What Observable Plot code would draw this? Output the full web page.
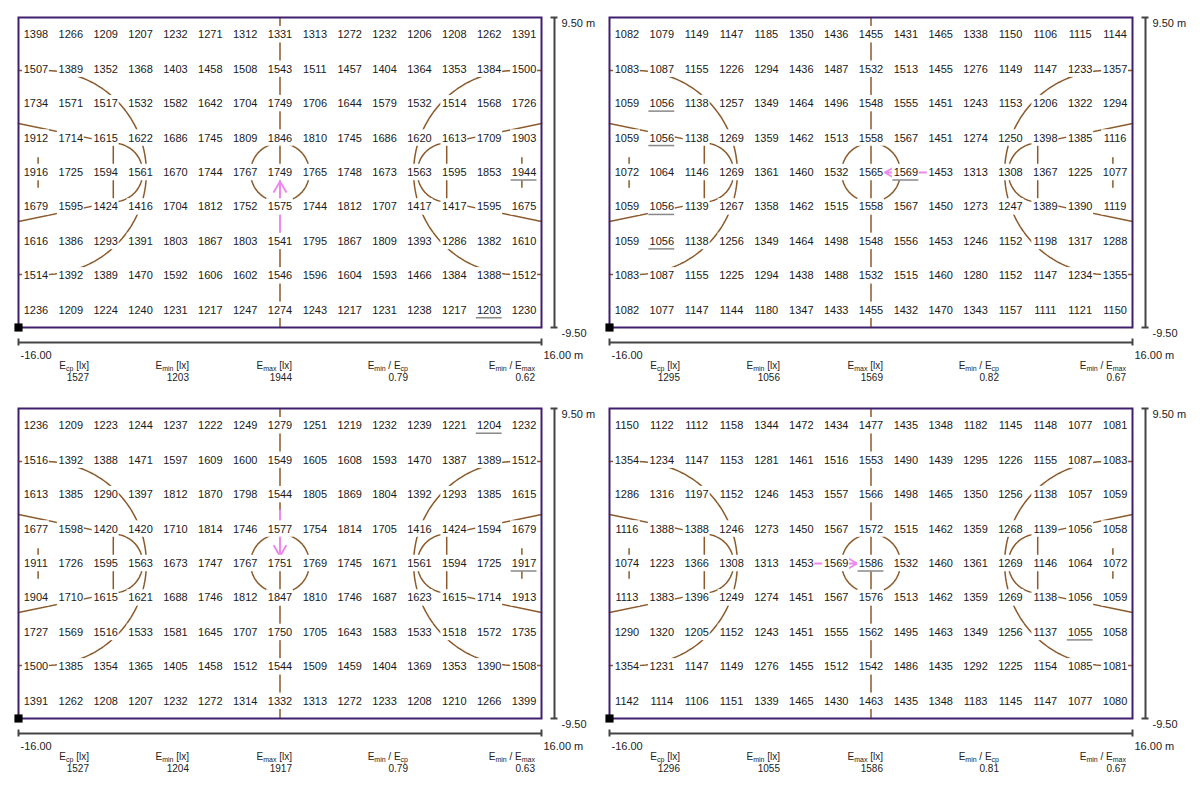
<!DOCTYPE html>
<html><head><meta charset="utf-8">
<script src="https://cdn.jsdelivr.net/npm/d3@7"></script>
<script src="https://cdn.jsdelivr.net/npm/@observablehq/plot@0.6"></script>
<style>
body{margin:0;background:#fff;font-family:"Liberation Sans",Arial,sans-serif;}
#root{position:relative;width:1200px;height:800px;overflow:hidden;}
.panel{position:absolute;width:600px;height:391px;}
.panel svg{position:absolute;left:0;top:0;overflow:visible;}
.stat{position:absolute;width:100px;text-align:right;font-size:10px;line-height:12px;color:#222;white-space:nowrap;}
.stat sub{font-size:7px;vertical-align:-2px;line-height:0;}
</style></head><body><div id="root"></div>
<script>
// ---------- data ----------
const xExtent = [-16, 16];
const yExtent = [-9.5, 9.5];
const xTickLabels = ["-16.00", "16.00 m"];
const yTickLabels = ["9.50 m", "-9.50"];

const values1 = [
[1398,1266,1209,1207,1232,1271,1312,1331,1313,1272,1232,1206,1208,1262,1391],
[1507,1389,1352,1368,1403,1458,1508,1543,1511,1457,1404,1364,1353,1384,1500],
[1734,1571,1517,1532,1582,1642,1704,1749,1706,1644,1579,1532,1514,1568,1726],
[1912,1714,1615,1622,1686,1745,1809,1846,1810,1745,1686,1620,1613,1709,1903],
[1916,1725,1594,1561,1670,1744,1767,1749,1765,1748,1673,1563,1595,1853,1944],
[1679,1595,1424,1416,1704,1812,1752,1575,1744,1812,1707,1417,1417,1595,1675],
[1616,1386,1293,1391,1803,1867,1803,1541,1795,1867,1809,1393,1286,1382,1610],
[1514,1392,1389,1470,1592,1606,1602,1546,1596,1604,1593,1466,1384,1388,1512],
[1236,1209,1224,1240,1231,1217,1247,1274,1243,1217,1231,1238,1217,1203,1230]];

const values2 = [
[1082,1079,1149,1147,1185,1350,1436,1455,1431,1465,1338,1150,1106,1115,1144],
[1083,1087,1155,1226,1294,1436,1487,1532,1513,1455,1276,1149,1147,1233,1357],
[1059,1056,1138,1257,1349,1464,1496,1548,1555,1451,1243,1153,1206,1322,1294],
[1059,1056,1138,1269,1359,1462,1513,1558,1567,1451,1274,1250,1398,1385,1116],
[1072,1064,1146,1269,1361,1460,1532,1565,1569,1453,1313,1308,1367,1225,1077],
[1059,1056,1139,1267,1358,1462,1515,1558,1567,1450,1273,1247,1389,1390,1119],
[1059,1056,1138,1256,1349,1464,1498,1548,1556,1453,1246,1152,1198,1317,1288],
[1083,1087,1155,1225,1294,1438,1488,1532,1515,1460,1280,1152,1147,1234,1355],
[1082,1077,1147,1144,1180,1347,1433,1455,1432,1470,1343,1157,1111,1121,1150]];

const values3 = [
[1236,1209,1223,1244,1237,1222,1249,1279,1251,1219,1232,1239,1221,1204,1232],
[1516,1392,1388,1471,1597,1609,1600,1549,1605,1608,1593,1470,1387,1389,1512],
[1613,1385,1290,1397,1812,1870,1798,1544,1805,1869,1804,1392,1293,1385,1615],
[1677,1598,1420,1420,1710,1814,1746,1577,1754,1814,1705,1416,1424,1594,1679],
[1911,1726,1595,1563,1673,1747,1767,1751,1769,1745,1671,1561,1594,1725,1917],
[1904,1710,1615,1621,1688,1746,1812,1847,1810,1746,1687,1623,1615,1714,1913],
[1727,1569,1516,1533,1581,1645,1707,1750,1705,1643,1583,1533,1518,1572,1735],
[1500,1385,1354,1365,1405,1458,1512,1544,1509,1459,1404,1369,1353,1390,1508],
[1391,1262,1208,1207,1232,1272,1314,1332,1313,1272,1233,1208,1210,1266,1399]];

const values4 = [
[1150,1122,1112,1158,1344,1472,1434,1477,1435,1348,1182,1145,1148,1077,1081],
[1354,1234,1147,1153,1281,1461,1516,1553,1490,1439,1295,1226,1155,1087,1083],
[1286,1316,1197,1152,1246,1453,1557,1566,1498,1465,1350,1256,1138,1057,1059],
[1116,1388,1388,1246,1273,1450,1567,1572,1515,1462,1359,1268,1139,1056,1058],
[1074,1223,1366,1308,1313,1453,1569,1586,1532,1460,1361,1269,1146,1064,1072],
[1113,1383,1396,1249,1274,1451,1567,1576,1513,1462,1359,1269,1138,1056,1059],
[1290,1320,1205,1152,1243,1451,1555,1562,1495,1463,1349,1256,1137,1055,1058],
[1354,1231,1147,1149,1276,1455,1512,1542,1486,1435,1292,1225,1154,1085,1081],
[1142,1114,1106,1151,1339,1465,1430,1463,1435,1348,1183,1145,1147,1077,1080]];

const statLabels = ["E<sub>cp</sub> [lx]", "E<sub>min</sub> [lx]", "E<sub>max</sub> [lx]",
                    "E<sub>min</sub> / E<sub>cp</sub>", "E<sub>min</sub> / E<sub>max</sub>"];
const stats1 = ["1527", "1203", "1944", "0.79", "0.62"];
const stats2 = ["1295", "1056", "1569", "0.82", "0.67"];
const stats3 = ["1527", "1204", "1917", "0.79", "0.63"];
const stats4 = ["1296", "1055", "1586", "0.81", "0.67"];

// aiming arrows (m)
const arrows1 = [{x1: 0, y1: -3.65, x2: 0, y2: -0.55}];
const arrows2 = [{x1: 3.45, y1: 0, x2: 0.85, y2: 0}];
const arrows3 = [{x1: 0, y1: 3.25, x2: 0, y2: 0.45}];
const arrows4 = [{x1: -3.5, y1: 0, x2: -0.85, y2: 0}];

// court markings (m, distance from centre line / axis)
const basketX = 14.425, threeR = 6.25;
const keyBaseHalf = 3.0, keyFtHalf = 1.8, ftX = 10.2, ftR = 1.8;
const boardX = 14.8, boardHalf = 0.9, centreR = 1.8;

// ---------- helpers ----------
const nCols = values1[0].length, nRows = values1.length;
const cw = (xExtent[1] - xExtent[0]) / nCols;
const rh = (yExtent[1] - yExtent[0]) / nRows;

function arc(r, a0, a1, n) {
  return d3.range(n + 1).map(k => {
    const a = a0 + (a1 - a0) * k / n;
    return {x: r * Math.cos(a), y: r * Math.sin(a)};
  });
}
function courtPoints() {
  const pts = [];
  pts.push({id: "mid", x: 0, y: yExtent[1]}, {id: "mid", x: 0, y: yExtent[0]});
  arc(centreR, 0, 2 * Math.PI, 90).forEach(p => pts.push({id: "cc", x: p.x, y: p.y}));
  for (const s of [-1, 1]) {
    const e = s * xExtent[1];
    // three point line
    pts.push({id: "3p" + s, x: e, y: threeR});
    arc(threeR, Math.PI / 2, -Math.PI / 2, 90)
      .forEach(p => pts.push({id: "3p" + s, x: s * basketX - s * p.x, y: p.y}));
    pts.push({id: "3p" + s, x: e, y: -threeR});
    // key (trapezoid)
    pts.push({id: "key" + s, x: e, y: keyBaseHalf}, {id: "key" + s, x: s * ftX, y: keyFtHalf},
             {id: "key" + s, x: s * ftX, y: -keyFtHalf}, {id: "key" + s, x: e, y: -keyBaseHalf});
    // free throw semicircle
    arc(ftR, Math.PI / 2, -Math.PI / 2, 60)
      .forEach(p => pts.push({id: "ft" + s, x: s * ftX - s * p.x, y: p.y}));
    // backboard
    pts.push({id: "bb" + s, x: s * boardX, y: boardHalf}, {id: "bb" + s, x: s * boardX, y: -boardHalf});
  }
  return pts;
}
const court = courtPoints();

function makeCells(values) {
  return values.flatMap((row, j) => row.map((v, i) => ({
    v, x: xExtent[0] + (i + 0.5) * cw, y: yExtent[1] - (j + 0.5) * rh,
    x1: xExtent[0] + i * cw, x2: xExtent[0] + (i + 1) * cw,
    y1: yExtent[1] - j * rh, y2: yExtent[1] - (j + 1) * rh
  })));
}

const brown = "#8c5a2b", purple = "#40206e", pink = "#ee88ee", bar = "#444";

function panel(values, stats, arrows) {
  const cells = makeCells(values);
  const lo = +stats[1], hi = +stats[2];
  const marked = cells.filter(d => d.v === lo || d.v === hi);
  const xLab = [{x: xExtent[0], y: yExtent[0], t: xTickLabels[0]}, {x: xExtent[1], y: yExtent[0], t: xTickLabels[1]}];
  const yLab = [{x: xExtent[1], y: yExtent[1], t: yTickLabels[0]}, {x: xExtent[1], y: yExtent[0], t: yTickLabels[1]}];
  return Plot.plot({
    width: 600, height: 365,
    marginLeft: 18, marginTop: 17, marginRight: 59, marginBottom: 38,
    x: {domain: xExtent, axis: null},
    y: {domain: yExtent, axis: null},
    style: {fontFamily: "'Liberation Sans', Arial, sans-serif", fontSize: "11px", background: "transparent", overflow: "visible"},
    marks: [
      Plot.line(court, {x: "x", y: "y", z: "id", stroke: brown, strokeWidth: 1.5, curve: "linear"}),
      Plot.arrow(arrows, {x1: "x1", y1: "y1", x2: "x2", y2: "y2", stroke: pink, strokeWidth: 2, headLength: 9}),
      Plot.rect(cells, {x1: "x1", x2: "x2", y1: "y1", y2: "y2", fill: "white",
        insetLeft: 4, insetRight: 4, insetTop: 9, insetBottom: 9}),
      Plot.text(cells, {x: "x", y: "y", text: d => String(d.v), fill: "#1a1a1a", fontSize: 11}),
      Plot.ruleY(marked, {y: "y", x1: "x1", x2: "x2", insetLeft: 4.5, insetRight: 4.5, dy: 7.5, stroke: "#888", strokeWidth: 1.5}),
      Plot.frame({stroke: purple, strokeWidth: 2}),
      Plot.dot([{x: xExtent[0], y: yExtent[0]}], {x: "x", y: "y", symbol: "square", r: 4.6, fill: "black"}),
      // horizontal scale bar
      Plot.ruleY([yExtent[0]], {x1: xExtent[0], x2: xExtent[1], dy: 15, stroke: bar, strokeWidth: 2}),
      Plot.ruleX(xExtent, {x: d => d, y1: yExtent[0], y2: yExtent[0], insetTop: -3.5, insetBottom: -3.5, dy: 15, stroke: bar, strokeWidth: 2}),
      Plot.text(xLab, {x: "x", y: "y", text: "t", dx: 2, dy: 28, textAnchor: "start", fill: "#222", fontSize: 11}),
      // vertical scale bar
      Plot.ruleX([xExtent[1]], {y1: yExtent[0], y2: yExtent[1], dx: 13, stroke: bar, strokeWidth: 2}),
      Plot.ruleY(yExtent, {y: d => d, x1: xExtent[1], x2: xExtent[1], insetLeft: -3.5, insetRight: -3.5, dx: 13, stroke: bar, strokeWidth: 2}),
      Plot.text(yLab, {x: "x", y: "y", text: "t", dx: 20, dy: 6, textAnchor: "start", fill: "#222", fontSize: 11})
    ]
  });
}

const panels = [
  {values: values1, stats: stats1, arrows: arrows1, left: 0, top: 0},
  {values: values2, stats: stats2, arrows: arrows2, left: 591, top: 0},
  {values: values3, stats: stats3, arrows: arrows3, left: 0, top: 391},
  {values: values4, stats: stats4, arrows: arrows4, left: 591, top: 391}
];
const statRight = [89, 189, 292, 408, 535];
const root = document.getElementById("root");
for (const p of panels) {
  const div = document.createElement("div");
  div.className = "panel";
  div.style.left = p.left + "px";
  div.style.top = p.top + "px";
  div.appendChild(panel(p.values, p.stats, p.arrows));
  statLabels.forEach((lab, k) => {
    const s = document.createElement("div");
    s.className = "stat";
    s.style.left = (statRight[k] - 100) + "px";
    s.style.top = "360px";
    s.innerHTML = lab + "<br>" + p.stats[k];
    div.appendChild(s);
  });
  root.appendChild(div);
}
</script></body></html>
